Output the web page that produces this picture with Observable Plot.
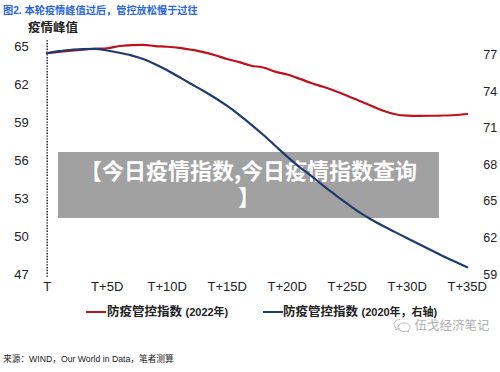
<!DOCTYPE html>
<html><head><meta charset="utf-8">
<script src="https://cdn.jsdelivr.net/npm/d3@7"></script>
<script src="https://cdn.jsdelivr.net/npm/@observablehq/plot@0.6"></script>
<style>
@font-face{font-family:"BoxCJK";src:local("Noto Sans CJK SC Bold"),local("NotoSansCJKsc-Bold"),local("Noto Sans CJK SC");font-weight:700;ascent-override:88%;descent-override:12%;line-gap-override:0%}
body{margin:0;background:#fff;}
#wrap{position:relative;width:500px;height:372px;font-family:"Liberation Sans","Noto Sans CJK SC",sans-serif;overflow:hidden;background:#fff}
.abs{position:absolute;white-space:nowrap}
#title{left:3px;top:2px;font-size:10.2px;font-weight:bold;color:#2A66DA}
#ylab{left:28px;top:17px;font-size:12.5px;font-weight:bold;color:#222}
#box{left:58px;top:152px;width:381px;height:66px;background:rgba(128,128,128,0.74);}
.bt{left:58px;width:381px;color:#fff;font-weight:700;font-size:22px;line-height:22px;height:22px;text-align:center;font-family:"BoxCJK","Noto Sans CJK SC",sans-serif}
#chart{position:absolute;left:0;top:0}
.leg{font-size:12.5px;font-weight:bold;color:#222;top:304px;line-height:16px}
.leg small{font-size:11px;font-weight:bold}
.sw{height:2.5px;width:20px;top:310.5px}
#wm{left:393px;top:318px;font-size:12.5px;color:#b0b0b0;line-height:16px}
#src{left:3px;top:352px;font-size:8.7px;color:#222}
</style></head><body>
<div id="wrap">
  <div id="box" class="abs"></div>
  <div class="abs bt" style="top:160px">【今日疫情指数,今日疫情指数查询</div>
  <div class="abs bt" style="top:186px">】</div>
  <div id="chart"></div>
  <div id="title" class="abs">图2. 本轮疫情峰值过后，管控放松慢于过往</div>
  <div id="ylab" class="abs">疫情峰值</div>
  <div class="abs sw" style="left:86px;background:#C0121C"></div>
  <div class="abs leg" style="left:107px">防疫管控指数 <small>(2022年)</small></div>
  <div class="abs sw" style="left:263px;background:#1F3A6E"></div>
  <div class="abs leg" style="left:283px">防疫管控指数 <small>(2020年，右轴)</small></div>
  <div id="wm" class="abs"><svg width="18" height="14" viewBox="0 0 18 14" style="vertical-align:-2px"><path d="M7 1.5C3.6 1.5 1 3.6 1 6.2c0 1.4.8 2.7 2 3.5L2.6 12l2.4-1.3c.6.2 1.3.3 2 .3" fill="none" stroke="#b8b8b8" stroke-width="1"/><path d="M11 5c3.3 0 6 2 6 4.3 0 1.2-.6 2.2-1.6 3l.3 1.7-1.9-1c-.9.3-1.8.5-2.8.5-3.3 0-6-2-6-4.2S7.7 5 11 5z" fill="none" stroke="#b8b8b8" stroke-width="1"/></svg> 伍戈经济笔记</div>
  <div id="src" class="abs">来源：WIND，Our World in Data，笔者测算</div>
</div>
<script>
const days = [0,1,2,3,4,5,6,7,8,9,10,11,12,13,14,15,16,17,18,19,20,21,22,23,24,25,26,27,28,29,30,31,32,33,34,35];
const idx2022 = [64.51,64.62,64.72,64.80,64.86,64.90,65.08,65.15,65.17,65.07,65.02,64.93,64.78,64.60,64.35,64.05,63.80,63.52,63.38,63.05,62.82,62.50,62.15,61.85,61.52,61.15,60.75,60.35,59.95,59.68,59.57,59.55,59.56,59.58,59.62,59.70];
const idx2020 = [77.18,77.35,77.45,77.52,77.53,77.40,77.22,77.00,76.70,76.28,75.78,75.22,74.65,74.10,73.50,72.85,72.12,71.32,70.48,69.58,68.68,67.85,67.10,66.30,65.55,64.82,64.12,63.52,62.98,62.48,61.97,61.48,60.99,60.50,60.05,59.60];
const xTicks = [0,5,10,15,20,25,30,35];
const leftTicks = [47,50,53,56,59,62,65];
const rightTicks = [59,62,65,68,71,74,77];
const leftDomain = [47,65];
const rightDomain = [59,77.69];

const toLeft = d3.scaleLinear().domain(rightDomain).range(leftDomain);
const red = days.map((d,i)=>({d, v: idx2022[i]}));
const blue = days.map((d,i)=>({d, v: idx2020[i]}));

const chart = Plot.plot({
  width: 500, height: 372,
  marginLeft: 46.7, marginRight: 33.3, marginTop: 46.5, marginBottom: 98,
  style: {fontFamily: '"Liberation Sans","Noto Sans CJK SC",sans-serif', fontSize: "13px", color: "#222", background: "transparent", overflow: "visible"},
  x: {domain: [0,35]},
  y: {domain: leftDomain},
  marks: [
    Plot.ruleX([0], {y1: 65.5, y2: 46.76, stroke: "#333", strokeWidth: 1.6, strokeDasharray: "1.4,1.4"}),
    Plot.line(red, {x: "d", y: "v", stroke: "#C0121C", strokeWidth: 2.2, curve: "monotone-x"}),
    Plot.line(blue, {x: "d", y: d => toLeft(d.v), stroke: "#1F3A6E", strokeWidth: 2.2, curve: "monotone-x"}),
    Plot.axisY(leftTicks, {anchor: "left", tickSize: 0, tickPadding: 18.5, label: null, fontSize: 13}),
    Plot.axisY(rightTicks.map(t => toLeft(t)), {anchor: "right", tickSize: 0, tickPadding: 16, label: null, fontSize: 12.5, tickFormat: d => String(Math.round(toLeft.invert(d)))}),
    Plot.axisX(xTicks, {tickSize: 0, tickPadding: 7, label: null, fontSize: 13, tickFormat: d => d === 0 ? "T" : `T+${d}D`})
  ]
});
document.getElementById("chart").appendChild(chart);
</script>
</body></html>
